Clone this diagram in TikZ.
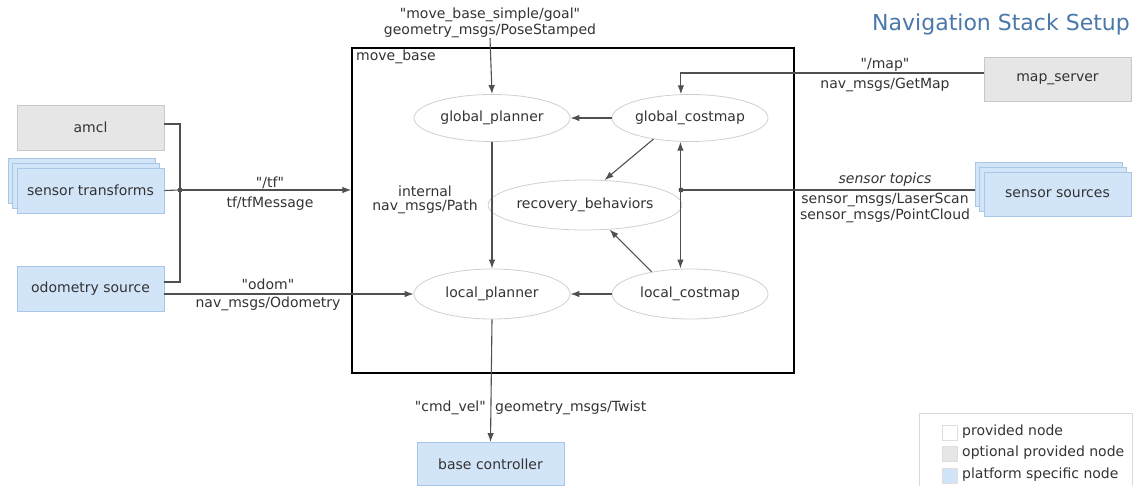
\documentclass[tikz,border=0pt]{standalone}
\usepackage{fontspec}
\setmainfont{DejaVu Sans}
\newfontfamily\dvs{DejaVu Sans}
\usetikzlibrary{arrows.meta,shadows,shapes.geometric}
\definecolor{txt}{HTML}{333333}
\definecolor{ln}{HTML}{505050}
\definecolor{grayfill}{HTML}{E6E6E6}
\definecolor{grayline}{HTML}{C8C8C8}
\definecolor{bluefill}{HTML}{D2E4F8}
\definecolor{blueline}{HTML}{ABC7E6}
\definecolor{ellline}{HTML}{CFCFCF}
\definecolor{titleblue}{HTML}{4A78AA}
\tikzset{
  lbl/.style={inner sep=0pt, text=txt, align=center, font=\dvs\fontsize{14}{16}\selectfont},
  optbox/.style={draw=grayline, fill=grayfill, line width=0.8pt, minimum width=147pt, minimum height=45pt, inner sep=0pt, text=txt},
  platbox/.style={draw=blueline, fill=bluefill, line width=0.8pt, minimum width=147pt, minimum height=45pt, inner sep=0pt, text=txt},
  stackbox/.style={platbox, double copy shadow={shadow xshift=-4.5pt, shadow yshift=5pt}},
  ell/.style={ellipse, draw=ellline, line width=0.8pt, minimum width=156pt, minimum height=47pt, inner sep=0pt, text=txt},
  conn/.style={draw=ln, line width=1.1pt},
  arr/.style={conn, -{Latex[length=9pt,width=6.5pt]}},
  darr/.style={conn, {Latex[length=9pt,width=6.5pt]}-{Latex[length=9pt,width=6.5pt]}},
  jdot/.style={circle, fill=ln, inner sep=0pt, minimum size=5pt},
  legsq/.style={draw=grayline!60, line width=0.6pt, minimum width=15pt, minimum height=15pt, inner sep=0pt}
}
\begin{document}
\begin{tikzpicture}[x=1pt, y=-1pt, font=\dvs\fontsize{14}{16}\selectfont]
\useasboundingbox (0,0) rectangle (1134,486);

% title
\node[lbl, text=titleblue, font=\dvs\fontsize{22}{24}\selectfont, anchor=east] (title) at (1130,24) {Navigation Stack Setup};

% move_base container
\node[draw=black, line width=1.5pt, minimum width=442pt, minimum height=325pt, inner sep=0pt] (mb) at (573,210.5) {};
\node[lbl, anchor=north west] (mblabel) at (356,50) {move\_base};

% left nodes
\node[optbox] (amcl) at (90.5,127.5) {amcl};
\node[stackbox] (st) at (90.5,190.5) {sensor transforms};
\node[platbox] (odo) at (90.5,288.5) {odometry source};

% right nodes
\node[optbox, minimum height=44pt] (ms) at (1057.5,79) {map\_server};
\node[stackbox, minimum height=44pt] (ss) at (1057.5,194) {sensor sources};

% bottom node
\node[platbox, minimum height=43pt] (bc) at (490.5,464) {base controller};

% internal ellipses
\node[ell] (gp) at (492,118) {global\_planner};
\node[ell] (gc) at (690,118) {global\_costmap};
\node[ell, minimum height=50pt] (rb) at (585,205) {recovery\_behaviors};
\node[ell, minimum height=50pt] (lp) at (492,294) {local\_planner};
\node[ell, minimum height=50pt] (lc) at (690,294) {local\_costmap};

% junctions
\node[jdot] (j1) at (180,190) {};
\node[jdot] (j2) at (681,190) {};

% goal
\node[lbl] (goal) at (490,23) {"move\_base\_simple/goal"\\geometry\_msgs/PoseStamped};
\draw[arr] (goal.south) -- (gp.north);

% tf
\draw[conn] ([yshift=3.5pt]amcl.east) -| (j1.center) |- ([yshift=6.5pt]odo.east);
\draw[conn] (st.east) -- (j1.center);
\draw[arr] (j1.center) -- (mb.west |- j1.center);
\node[lbl] (tf1) at (270,183) {"/tf"};
\node[lbl] (tf2) at (270,204) {tf/tfMessage};

% odom
\draw[arr] ([yshift=-5.5pt]odo.east) -- (lp.west);
\node[lbl] (od1) at (268,284) {"odom"};
\node[lbl] (od2) at (268,304) {nav\_msgs/Odometry};

% internal edges
\draw[arr] (gc.west) -- (gp.east);
\draw[arr] (lc.west) -- (lp.east);
\draw[arr] (gp.south) -- (lp.north);
\node[lbl] (int1) at (425,191) {internal};
\node[lbl] (int2) at (425,207) {nav\_msgs/Path};
\draw[arr] (gc.210) -- (rb.52);
\draw[arr] (lc.150) -- (rb.-45);
\draw[darr] (gc.248.5) -- (gc.248.5 |- lc.north);

% map
\draw[arr] ([yshift=6pt]ms.west) -| (gc.111.5);
\node[lbl] (map1) at (885,65) {"/map"};
\node[lbl] (map2) at (885,85) {nav\_msgs/GetMap};

% sensor topics
\draw[conn] (j2.center) -- ([xshift=-9pt]ss.west |- j2.center);
\node[lbl, font=\dvs\fontsize{14}{16}\selectfont\itshape] (sn1) at (885,180) {sensor topics};
\node[lbl] (sn2) at (885,200) {sensor\_msgs/LaserScan};
\node[lbl] (sn3) at (885,216) {sensor\_msgs/PointCloud};

% cmd_vel
\draw[arr] (lp.south) -- (bc.north);
\node[lbl, anchor=east] (cv1) at (486,408) {"cmd\_vel"};
\node[lbl, anchor=west] (cv2) at (495,408) {geometry\_msgs/Twist};

% legend
\draw[draw=grayline!70, line width=0.8pt] (919,413) rectangle (1132,492);
\node[legsq, fill=white] (lg1) at (949.5,432.5) {};
\node[legsq, fill=grayfill] (lg2) at (949.5,454) {};
\node[legsq, fill=bluefill] (lg3) at (949.5,476) {};
\node[lbl, anchor=west] (lt1) at (962,432) {provided node};
\node[lbl, anchor=west] (lt2) at (962,453) {optional provided node};
\node[lbl, anchor=west] (lt3) at (962,475) {platform specific node};
\end{tikzpicture}
\end{document}
